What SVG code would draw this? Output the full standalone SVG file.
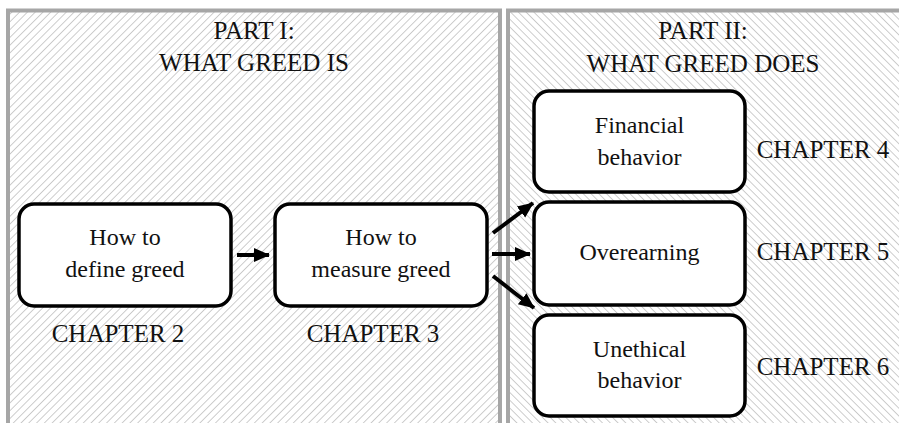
<svg xmlns="http://www.w3.org/2000/svg" width="899" height="423" viewBox="0 0 899 423">
<style>
.panel{stroke:#a6a6a6;stroke-width:4}
.box{fill:#fff;stroke:#000;stroke-width:3.5}
text{font-family:"Liberation Serif","Times New Roman",serif;font-size:24px;fill:#111}
.h{font-size:25px}
.ch{font-size:25px}
.c{text-anchor:middle}
.conn{stroke:#000;stroke-width:4;fill:none;marker-end:url(#ah)}
</style>
<defs>
<pattern id="hatchL" width="5.5" height="5.5" patternUnits="userSpaceOnUse" patternTransform="rotate(45)">
<rect width="5.5" height="5.5" fill="#fff"/>
<line x1="0" y1="0" x2="0" y2="5.5" stroke="#b8b8b8" stroke-width="1.4"/>
</pattern>
<pattern id="hatchR" width="5.5" height="5.5" patternUnits="userSpaceOnUse" patternTransform="rotate(-45)">
<rect width="5.5" height="5.5" fill="#fff"/>
<line x1="0" y1="0" x2="0" y2="5.5" stroke="#b8b8b8" stroke-width="1.4"/>
</pattern>
<marker id="ah" markerUnits="userSpaceOnUse" markerWidth="17" markerHeight="17" viewBox="0 0 17 17" refX="15" refY="8.5" orient="auto">
<path d="M0,1.5 L16,8.5 L0,15.5 Z" fill="#000"/>
</marker>
</defs>
<rect width="899" height="423" fill="#fff"/>
<g id="part1">
<rect class="panel" x="8" y="10.5" width="492" height="450" fill="url(#hatchL)"/>
<text class="c h" x="254" y="39">PART I:</text>
<text class="c h" x="254" y="71">WHAT GREED IS</text>
</g>
<g id="part2">
<rect class="panel" x="508" y="10.5" width="420" height="450" fill="url(#hatchR)"/>
<text class="c h" x="703" y="39">PART II:</text>
<text class="c h" x="703" y="72">WHAT GREED DOES</text>
</g>
<g id="connectors">
<line class="conn" x1="237" y1="255" x2="269" y2="255"/>
<line class="conn" x1="493" y1="233" x2="533" y2="203"/>
<line class="conn" x1="492" y1="254" x2="530" y2="254"/>
<line class="conn" x1="493" y1="276" x2="534" y2="308"/>
</g>
<g id="define">
<rect class="box" x="19" y="204" width="212" height="102" rx="15"/>
<text class="c" x="125" y="245">How to</text>
<text class="c" x="125" y="277">define greed</text>
<text class="c ch" x="118" y="342">CHAPTER 2</text>
</g>
<g id="measure">
<rect class="box" x="275" y="204" width="212" height="102" rx="15"/>
<text class="c" x="381" y="245">How to</text>
<text class="c" x="381" y="277">measure greed</text>
<text class="c ch" x="373" y="342">CHAPTER 3</text>
</g>
<g id="financial">
<rect class="box" x="534" y="91" width="211" height="101" rx="15"/>
<text class="c" x="639.5" y="133">Financial</text>
<text class="c" x="639.5" y="165">behavior</text>
<text class="c ch" x="823" y="158">CHAPTER 4</text>
</g>
<g id="overearning">
<rect class="box" x="534" y="202" width="211" height="103" rx="15"/>
<text class="c" x="639.5" y="260">Overearning</text>
<text class="c ch" x="823" y="260">CHAPTER 5</text>
</g>
<g id="unethical">
<rect class="box" x="534" y="315" width="211" height="101" rx="15"/>
<text class="c" x="639.5" y="357">Unethical</text>
<text class="c" x="639.5" y="388">behavior</text>
<text class="c ch" x="823" y="375">CHAPTER 6</text>
</g>
</svg>
